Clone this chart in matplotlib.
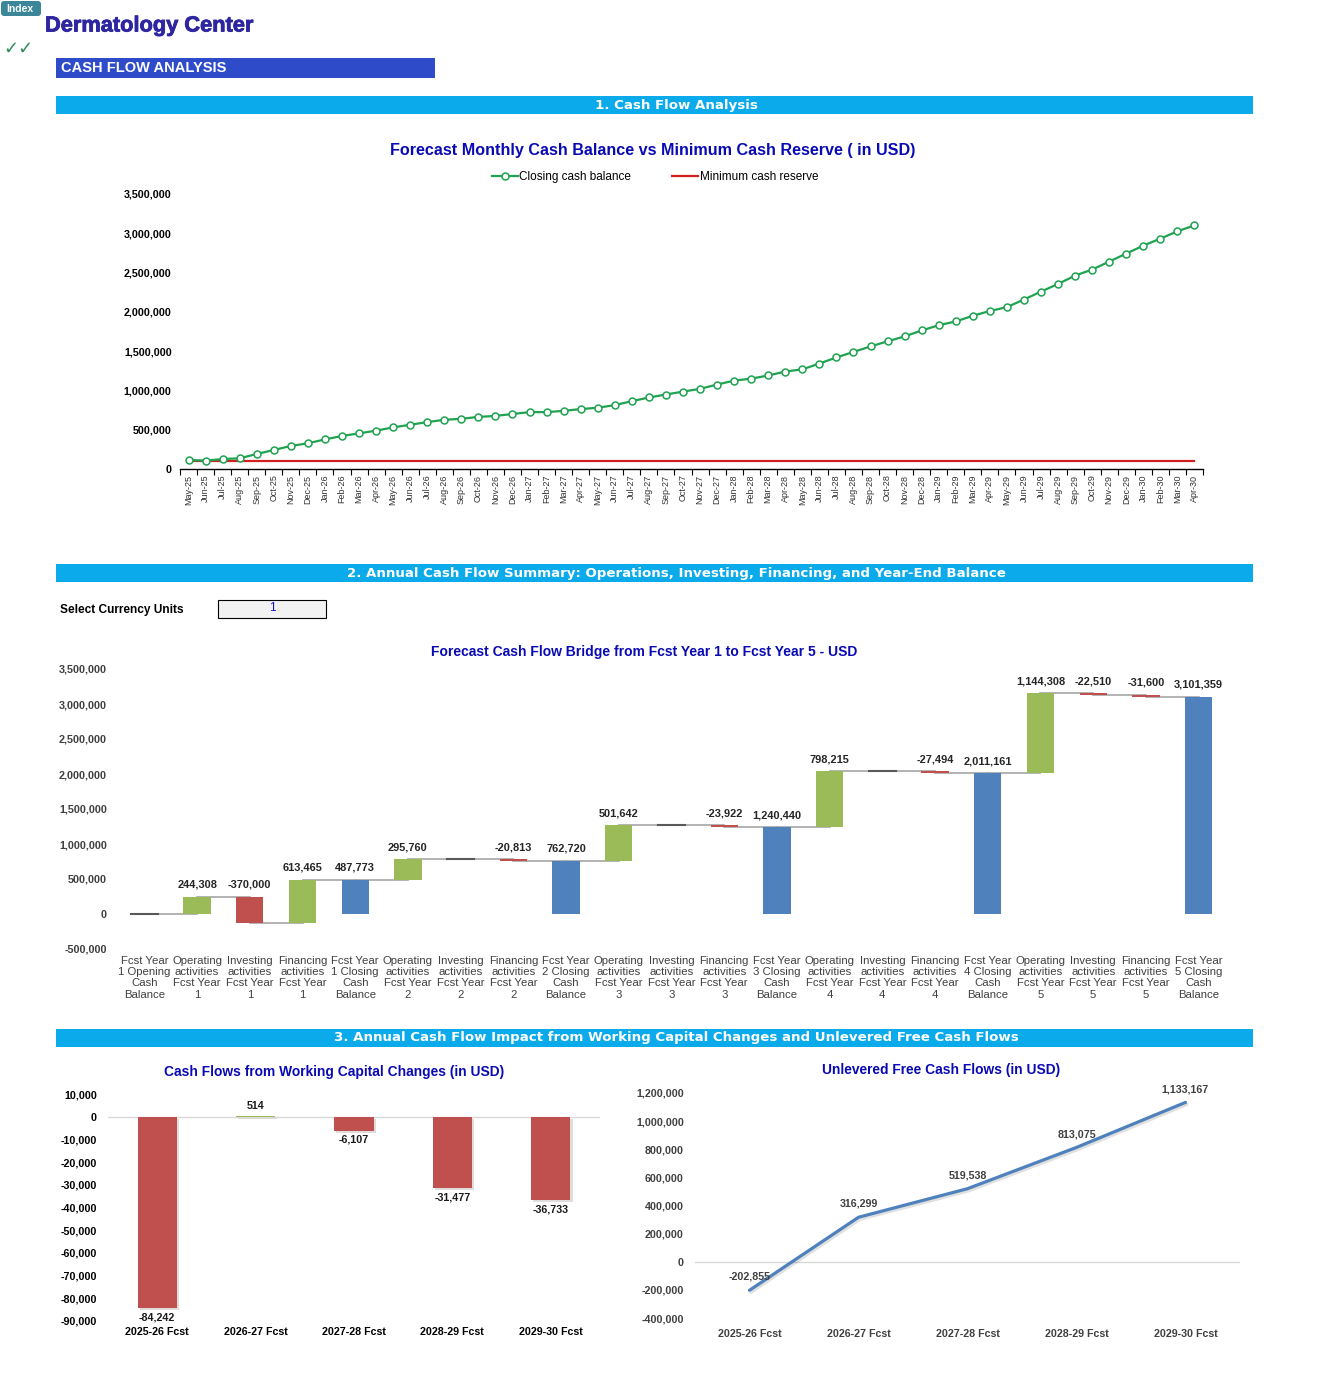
import numpy as np
import pandas as pd
import matplotlib
matplotlib.use("Agg")
import matplotlib.pyplot as plt
from matplotlib.patches import Rectangle, FancyBboxPatch
from matplotlib import patheffects as pe

plt.rcParams['font.family'] = ['Liberation Sans', 'DejaVu Sans']

# ---- data ----
months = list(pd.date_range('2025-05-01', periods=60, freq='MS').strftime('%b-%y'))
closing_cash = [115000, 106000, 127000, 136000, 191000, 242000, 293000, 327000, 377000, 420000, 454000, 487773,
                530000, 563000, 597000, 626000, 639000, 663000, 676000, 700000, 724000, 724000, 740000, 762720,
                780000, 813000, 863000, 910000, 948000, 985000, 1020000, 1075000, 1125000, 1150000, 1190000, 1240440,
                1268000, 1342000, 1420000, 1490000, 1560000, 1625000, 1688000, 1763000, 1830000, 1878000, 1950000, 2011161,
                2060000, 2157000, 2258000, 2355000, 2462000, 2538000, 2640000, 2742000, 2843000, 2932000, 3025000, 3101359]
min_reserve = 100000

bridge_labels = []
for yr in range(1, 6):
    if yr == 1:
        bridge_labels.append("Fcst Year\n1 Opening\nCash\nBalance")
    bridge_labels += ["Operating\nactivities\nFcst Year\n%d" % yr,
                      "Investing\nactivities\nFcst Year\n%d" % yr,
                      "Financing\nactivities\nFcst Year\n%d" % yr,
                      "Fcst Year\n%d Closing\nCash\nBalance" % yr]
opening_cash = 0
operating = [244308, 295760, 501642, 798215, 1144308]
investing = [-370000, 0, 0, 0, -22510]
financing = [613465, -20813, -23922, -27494, -31600]
closing_year = [487773, 762720, 1240440, 2011161, 3101359]

years = ["2025-26 Fcst", "2026-27 Fcst", "2027-28 Fcst", "2028-29 Fcst", "2029-30 Fcst"]
wc_changes = [-84242, 514, -6107, -31477, -36733]
ufcf = [-202855, 316299, 519538, 813075, 1133167]

# ---- layout helpers (pixel coords, top origin) ----
W, H = 1326, 1387
fig = plt.figure(figsize=(W / 100, H / 100), dpi=100)
bg = fig.add_axes([0, 0, 1, 1], zorder=-5)
bg.set_xlim(0, W)
bg.set_ylim(H, 0)
bg.axis('off')


def ax_at(l, t, r, b):
    return fig.add_axes([l / W, 1 - b / H, (r - l) / W, (b - t) / H])


def fmt(v):
    return "{:,.0f}".format(v)


title_blue = '#0A0AB4'
green = '#9BBB59'
red = '#C0504D'
blue = '#4F81BD'

# header
bg.add_patch(FancyBboxPatch((1, 1), 40, 15, boxstyle="round,pad=0,rounding_size=3", fc='#3B8699', ec='none'))
bg.text(20, 8.5, "Index", color='white', fontsize=7.5, fontweight='bold', ha='center', va='center')
bg.text(45, 26, "Dermatology Center", color='#2E26A0', fontsize=15.7, fontweight='heavy', va='center',
        path_effects=[pe.withStroke(linewidth=0.6, foreground='#2E26A0')])
bg.text(3, 49, "\u2713\u2713", color='#2E8B57', fontsize=13, va='center', family='DejaVu Sans')
bg.add_patch(Rectangle((56, 58), 379, 20, fc='#2E4BC9', ec='none'))
bg.text(61, 68.5, "CASH FLOW ANALYSIS", color='white', fontsize=10.5, fontweight='bold', va='center')

sections = [(96, "1. Cash Flow Analysis"),
            (564, "2. Annual Cash Flow Summary: Operations, Investing, Financing, and Year-End Balance"),
            (1029, "3. Annual Cash Flow Impact from Working Capital Changes and Unlevered Free Cash Flows")]
for y0, txt in sections:
    bg.add_patch(Rectangle((56, y0), 1197, 18, fc='#0AAAEB', ec='none'))
    bg.text(676, y0 + 9, txt, color='white', fontsize=9.6, fontweight='bold', ha='center', va='center',
            family='DejaVu Sans')

bg.text(60, 610, "Select Currency Units", fontsize=8.6, fontweight='bold', va='center')
bg.add_patch(Rectangle((218, 600), 108, 18, fc='#F2F2F2', ec='black', lw=0.8))
bg.text(272, 608, "1", color='#1010D0', fontsize=8.5, ha='center', va='center')

# ---- 1. monthly cash balance ----
bg.text(653, 150, "Forecast Monthly Cash Balance vs Minimum Cash Reserve ( in USD)",
        color=title_blue, fontsize=11.6, fontweight='bold', ha='center', va='center')
ax1 = ax_at(180, 194, 1203, 469)
x = np.arange(len(months))
ax1.plot(x, closing_cash, color='#1FA350', lw=1.6, marker='o', ms=5, mfc='white', mec='#1FA350', mew=1.1,
         label='Closing cash balance', zorder=3)
ax1.plot(x, [min_reserve] * len(months), color='#D02020', lw=1.6, label='Minimum cash reserve', zorder=2)
ax1.set_xlim(-0.5, len(months) - 0.5)
ax1.set_ylim(0, 3500000)
ax1.set_yticks(np.arange(0, 3500001, 500000))
ax1.set_yticklabels([fmt(v) for v in ax1.get_yticks()], fontsize=7.7, fontweight='bold')
ax1.set_xticks(x)
ax1.set_xticklabels(months, rotation=90, fontsize=6.5, color='#333333')
ax1.set_xticks(np.arange(-0.5, len(months)), minor=True)
ax1.tick_params(axis='x', which='major', length=0, pad=4)
ax1.tick_params(axis='x', which='minor', length=4, width=0.8, direction='out')
ax1.tick_params(axis='y', length=0, pad=6)
for s in ['top', 'right', 'left']:
    ax1.spines[s].set_visible(False)
ax1.spines['bottom'].set_linewidth(1.0)
ax1.legend(loc='center', bbox_to_anchor=(655 / W, 1 - 177 / H), bbox_transform=fig.transFigure,
           ncol=2, frameon=False, fontsize=8.5, handlelength=2.2, handletextpad=0.1, columnspacing=3.5)

# ---- 2. waterfall ----
bg.text(644, 652, "Forecast Cash Flow Bridge from Fcst Year 1 to Fcst Year 5 - USD",
        color=title_blue, fontsize=10, fontweight='bold', ha='center', va='center')
ax2 = ax_at(118, 669, 1225, 949)
bottoms, heights, colors, levels, shown = [], [], [], [], []
running = opening_cash
bottoms.append(0); heights.append(opening_cash); colors.append(blue); levels.append(running); shown.append(None)
for i in range(5):
    for v in (operating[i], investing[i], financing[i]):
        new = running + v
        bottoms.append(min(running, new))
        heights.append(abs(v))
        colors.append(green if v >= 0 else red)
        running = new
        levels.append(running)
        shown.append(v if v != 0 else None)
    bottoms.append(0); heights.append(closing_year[i]); colors.append(blue)
    levels.append(closing_year[i]); shown.append(closing_year[i])
xb = np.arange(len(bridge_labels))
for i in range(len(xb) - 1):
    ax2.plot([xb[i], xb[i + 1]], [levels[i], levels[i]], color='#A6A6A6', lw=1.2, zorder=1)
ax2.bar(xb, heights, bottom=bottoms, width=0.52, color=colors, linewidth=0, zorder=2)
for i in xb:
    if heights[i] == 0:
        ax2.plot([i - 0.26, i + 0.26], [bottoms[i], bottoms[i]], color='#595959', lw=1.5, zorder=3)
for i, v in enumerate(shown):
    if v is None:
        continue
    top = bottoms[i] + heights[i]
    ax2.annotate(fmt(v), (xb[i], top), xytext=(0, 5), textcoords='offset points', ha='center', va='bottom',
                 fontsize=7.9, fontweight='bold', color='#262626')
ax2.set_xlim(-0.5, len(xb) - 0.5)
ax2.set_ylim(-500000, 3500000)
ax2.set_yticks(np.arange(-500000, 3500001, 500000))
ax2.set_yticklabels([fmt(v) for v in ax2.get_yticks()], fontsize=7.8, fontweight='bold', color='#404040')
ax2.set_xticks(xb)
ax2.set_xticklabels(bridge_labels, fontsize=8.2, color='#404040', linespacing=1.15)
ax2.tick_params(length=0)
ax2.tick_params(axis='x', pad=5)
ax2.tick_params(axis='y', pad=8)
for s in ax2.spines.values():
    s.set_visible(False)

# ---- 3a. working capital ----
bg.text(334, 1072, "Cash Flows from Working Capital Changes (in USD)",
        color=title_blue, fontsize=9.9, fontweight='bold', ha='center', va='center')
ax3 = ax_at(108, 1094, 600, 1321)
xw = np.arange(len(years))
wc_cols = [green if v >= 0 else red for v in wc_changes]
shadow = [pe.SimplePatchShadow(offset=(1.5, -1.5), alpha=0.15), pe.Normal()]
bars = ax3.bar(xw, wc_changes, width=0.4, color=wc_cols, zorder=2)
for b in bars:
    b.set_path_effects(shadow)
ax3.axhline(0, color='#D9D9D9', lw=1, zorder=1)
for i, v in enumerate(wc_changes):
    ax3.annotate(fmt(v), (xw[i], v), xytext=(0, 3 if v >= 0 else -3), textcoords='offset points',
                 ha='center', va='bottom' if v >= 0 else 'top', fontsize=7.7, fontweight='bold', color='#1a1a1a')
ax3.set_xlim(-0.5, len(years) - 0.5)
ax3.set_ylim(-90000, 10000)
ax3.set_yticks(np.arange(-90000, 10001, 10000))
ax3.set_yticklabels([fmt(v) for v in ax3.get_yticks()], fontsize=7.7, fontweight='bold')
ax3.set_xticks(xw)
ax3.set_xticklabels(years, fontsize=7.7, fontweight='bold')
ax3.tick_params(length=0)
ax3.tick_params(axis='x', pad=4)
ax3.tick_params(axis='y', pad=8)
for s in ax3.spines.values():
    s.set_visible(False)

# ---- 3b. unlevered FCF ----
bg.text(941, 1070, "Unlevered Free Cash Flows (in USD)",
        color=title_blue, fontsize=9.9, fontweight='bold', ha='center', va='center')
ax4 = ax_at(695, 1093, 1240, 1318)
xu = np.arange(len(years))
ax4.plot(xu, ufcf, color=blue, lw=2.3, solid_capstyle='round', zorder=3,
         path_effects=[pe.SimpleLineShadow(offset=(1, -1.5), alpha=0.12), pe.Normal()])
ax4.axhline(0, color='#D9D9D9', lw=1, zorder=1)
for i, v in enumerate(ufcf):
    ax4.annotate(fmt(v), (xu[i], v), xytext=(0, 6), textcoords='offset points', ha='center', va='bottom',
                 fontsize=7.7, fontweight='bold', color='#404040')
ax4.set_xlim(-0.5, len(years) - 0.5)
ax4.set_ylim(-400000, 1200000)
ax4.set_yticks(np.arange(-400000, 1200001, 200000))
ax4.set_yticklabels([fmt(v) for v in ax4.get_yticks()], fontsize=7.7, fontweight='bold', color='#404040')
ax4.set_xticks(xu)
ax4.set_xticklabels(years, fontsize=7.7, fontweight='bold', color='#404040')
ax4.tick_params(length=0)
ax4.tick_params(axis='x', pad=8)
ax4.tick_params(axis='y', pad=8)
for s in ax4.spines.values():
    s.set_visible(False)

fig.savefig("out.png", dpi=100)
